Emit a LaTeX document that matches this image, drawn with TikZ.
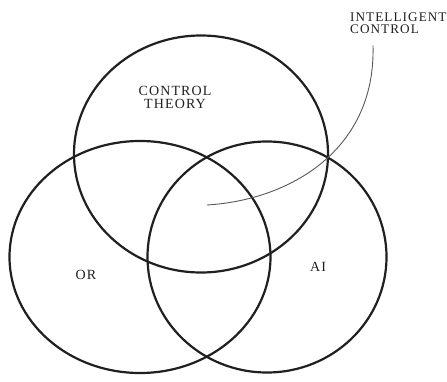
\documentclass[tikz,border=0pt]{standalone}
\usepackage{fontspec}
\setmainfont{Liberation Serif}[LetterSpace=8]
\usepackage{xcolor}
\usepackage{tikz}
\usetikzlibrary{shapes.geometric, positioning}
\definecolor{inkgray}{rgb}{0.13, 0.12, 0.13}
\tikzstyle{setcircle} = [ellipse, draw=inkgray, line width=2.2pt, inner sep=0pt]
\tikzstyle{setlabel} = [text=inkgray, font=\fontsize{14pt}{15pt}\selectfont, align=center, inner sep=0pt]
\tikzstyle{pointer} = [draw=inkgray!75, line width=0.9pt]

\begin{document}
\begin{tikzpicture}[x=1pt, y=-1pt]
\useasboundingbox (0,0) rectangle (447,382);

\node[
setcircle,
minimum width=254pt,
minimum height=237pt
] (ctc) at (201,154) {};

\node[
setcircle,
minimum width=261pt,
minimum height=232pt
] (orc) at (140,257) {};

\node[
setcircle,
minimum width=239pt,
minimum height=231pt
] (aic) at (267,257) {};

\node[setlabel] (ct) at (175,97) {CONTROL\\[-2pt]THEORY};
\node[setlabel] (or) at (86,275) {OR};
\node[setlabel] (ai) at (318,267) {AI};

\node[
setlabel,
font=\fontsize{13.2pt}{15pt}\selectfont,
align=left,
anchor=north west
] (ic) at (350,13) {INTELLIGENT\\[-3pt]CONTROL};

\coordinate[below right=11pt and 23pt of ic.south west] (icTop);
\coordinate (icEnd) at (207,205);

\draw[pointer] (icTop) .. controls (376,150) and (290,200) .. (icEnd);
\end{tikzpicture}
\end{document}
